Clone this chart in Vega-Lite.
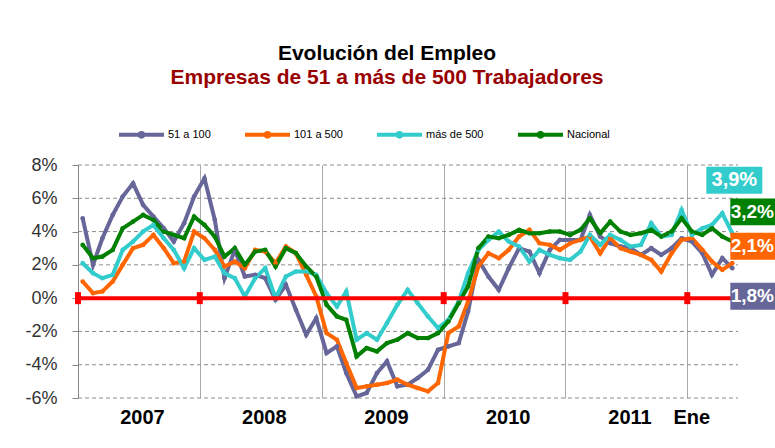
{
  "$schema": "https://vega.github.io/schema/vega-lite/v6.json",
  "width": 660,
  "height": 233,
  "autosize": {"type": "none"},
  "padding": {"left": 78, "top": 165, "right": 37, "bottom": 50},
  "background": "white",
  "title": {
    "text": "Evolución del Empleo",
    "subtitle": "Empresas de 51 a más de 500 Trabajadores",
    "anchor": "middle",
    "frame": "group",
    "dx": -21,
    "offset": 22,
    "font": "Liberation Sans",
    "fontSize": 21,
    "fontWeight": "bold",
    "color": "#000000",
    "subtitleFont": "Liberation Sans",
    "subtitleFontSize": 21,
    "subtitleFontWeight": "bold",
    "subtitleColor": "#990000",
    "subtitlePadding": 3
  },
  "config": {
    "view": {"stroke": null}
  },
  "encoding": {
    "x": {
      "field": "d",
      "type": "temporal",
      "title": null,
      "scale": {"domain": [{"year": 2007, "month": 1, "date": 1}, {"year": 2012, "month": 6, "date": 1}]},
      "axis": {
        "values": [
          {"year": 2007, "month": 1, "date": 1},
          {"year": 2008, "month": 1, "date": 1},
          {"year": 2009, "month": 1, "date": 1},
          {"year": 2010, "month": 1, "date": 1},
          {"year": 2011, "month": 1, "date": 1},
          {"year": 2012, "month": 1, "date": 1}
        ],
        "labelExpr": "year(datum.value) == 2012 ? 'Ene' : timeFormat(datum.value, '%Y')",
        "labelOffset": {"condition": {"test": "year(datum.value) == 2012", "value": 4}, "value": 64},
        "grid": true,
        "gridColor": "#aaaaaa",
        "gridWidth": 1,
        "domain": false,
        "ticks": false,
        "tickSize": 0,
        "labelFlush": false,
        "labelOverlap": false,
        "labelBound": false,
        "labelPadding": 9,
        "labelFont": "Liberation Sans",
        "labelFontSize": 20,
        "labelFontWeight": "bold",
        "labelColor": "#000000"
      }
    },
    "y": {
      "field": "valor",
      "type": "quantitative",
      "title": null,
      "scale": {"domain": [-6, 8], "nice": false},
      "axis": {
        "tickCount": 7,
        "labelExpr": "datum.value + '%'",
        "labelOverlap": false,
        "grid": false,
        "domainColor": "#888888",
        "tickColor": "#888888",
        "tickSize": 6,
        "labelPadding": 15,
        "labelFont": "Liberation Sans",
        "labelFontSize": 18,
        "labelColor": "#333333"
      }
    }
  },
  "layer": [
    {
      "data": {
        "format": {"parse": {"d": "date:'%Y-%m-%d'"}},
        "values": [
          {"d": "2007-01-01", "valor": -6}, {"d": "2012-06-01", "valor": -6},
          {"d": "2007-01-01", "valor": -4}, {"d": "2012-06-01", "valor": -4},
          {"d": "2007-01-01", "valor": -2}, {"d": "2012-06-01", "valor": -2},
          {"d": "2007-01-01", "valor": 2}, {"d": "2012-06-01", "valor": 2},
          {"d": "2007-01-01", "valor": 4}, {"d": "2012-06-01", "valor": 4},
          {"d": "2007-01-01", "valor": 6}, {"d": "2012-06-01", "valor": 6},
          {"d": "2007-01-01", "valor": 8}, {"d": "2012-06-01", "valor": 8}
        ]
      },
      "mark": {"type": "line", "color": "#8c8c8c", "strokeWidth": 1, "strokeDash": [4, 3]},
      "encoding": {"detail": {"field": "valor", "type": "nominal"}}
    },
    {
      "data": {
        "format": {"parse": {"d": "date:'%Y-%m-%d'"}},
        "values": [
          {"d": "2007-01-15", "51 a 100": 4.8, "101 a 500": 1.0, "más de 500": 2.1, "Nacional": 3.2},
          {"d": "2007-02-15", "51 a 100": 2.0, "101 a 500": 0.3, "más de 500": 1.5, "Nacional": 2.4},
          {"d": "2007-03-15", "51 a 100": 3.6, "101 a 500": 0.4, "más de 500": 1.2, "Nacional": 2.5},
          {"d": "2007-04-15", "51 a 100": 5.0, "101 a 500": 1.0, "más de 500": 1.4, "Nacional": 2.9},
          {"d": "2007-05-15", "51 a 100": 6.1, "101 a 500": 2.0, "más de 500": 2.9, "Nacional": 4.2},
          {"d": "2007-06-15", "51 a 100": 6.9, "101 a 500": 3.0, "más de 500": 3.4, "Nacional": 4.6},
          {"d": "2007-07-15", "51 a 100": 5.6, "101 a 500": 3.2, "más de 500": 4.0, "Nacional": 5.0},
          {"d": "2007-08-15", "51 a 100": 4.9, "101 a 500": 3.8, "más de 500": 4.4, "Nacional": 4.7},
          {"d": "2007-09-15", "51 a 100": 4.2, "101 a 500": 3.0, "más de 500": 3.6, "Nacional": 4.0},
          {"d": "2007-10-15", "51 a 100": 3.4, "101 a 500": 2.1, "más de 500": 2.9, "Nacional": 3.8},
          {"d": "2007-11-15", "51 a 100": 4.5, "101 a 500": 2.2, "más de 500": 1.8, "Nacional": 3.6},
          {"d": "2007-12-15", "51 a 100": 6.1, "101 a 500": 4.0, "más de 500": 3.0, "Nacional": 4.9},
          {"d": "2008-01-15", "51 a 100": 7.2, "101 a 500": 3.6, "más de 500": 2.3, "Nacional": 4.4},
          {"d": "2008-02-15", "51 a 100": 4.7, "101 a 500": 2.9, "más de 500": 2.5, "Nacional": 3.7},
          {"d": "2008-03-15", "51 a 100": 1.2, "101 a 500": 1.9, "más de 500": 1.5, "Nacional": 2.5},
          {"d": "2008-04-15", "51 a 100": 2.9, "101 a 500": 2.2, "más de 500": 1.2, "Nacional": 3.0},
          {"d": "2008-05-15", "51 a 100": 1.3, "101 a 500": 1.8, "más de 500": 0.1, "Nacional": 2.0},
          {"d": "2008-06-15", "51 a 100": 1.4, "101 a 500": 2.9, "más de 500": 1.2, "Nacional": 2.8},
          {"d": "2008-07-15", "51 a 100": 1.2, "101 a 500": 2.8, "más de 500": 1.8, "Nacional": 2.9},
          {"d": "2008-08-15", "51 a 100": -0.1, "101 a 500": 2.1, "más de 500": 0.0, "Nacional": 1.9},
          {"d": "2008-09-15", "51 a 100": 0.8, "101 a 500": 3.1, "más de 500": 1.3, "Nacional": 3.0},
          {"d": "2008-10-15", "51 a 100": -0.7, "101 a 500": 2.7, "más de 500": 1.6, "Nacional": 2.7},
          {"d": "2008-11-15", "51 a 100": -2.2, "101 a 500": 1.4, "más de 500": 1.6, "Nacional": 1.9},
          {"d": "2008-12-15", "51 a 100": -1.2, "101 a 500": 0.1, "más de 500": 1.4, "Nacional": 1.3},
          {"d": "2009-01-15", "51 a 100": -3.3, "101 a 500": -2.1, "más de 500": 0.3, "Nacional": -0.4},
          {"d": "2009-02-15", "51 a 100": -2.9, "101 a 500": -2.5, "más de 500": -0.5, "Nacional": -1.1},
          {"d": "2009-03-15", "51 a 100": -4.5, "101 a 500": -3.9, "más de 500": 0.4, "Nacional": -1.3},
          {"d": "2009-04-15", "51 a 100": -5.9, "101 a 500": -5.4, "más de 500": -2.5, "Nacional": -3.5},
          {"d": "2009-05-15", "51 a 100": -5.7, "101 a 500": -5.3, "más de 500": -2.1, "Nacional": -3.0},
          {"d": "2009-06-15", "51 a 100": -4.5, "101 a 500": -5.2, "más de 500": -2.5, "Nacional": -3.2},
          {"d": "2009-07-15", "51 a 100": -3.8, "101 a 500": -5.1, "más de 500": -1.5, "Nacional": -2.7},
          {"d": "2009-08-15", "51 a 100": -5.3, "101 a 500": -4.9, "más de 500": -0.4, "Nacional": -2.5},
          {"d": "2009-09-15", "51 a 100": -5.2, "101 a 500": -5.2, "más de 500": 0.5, "Nacional": -2.1},
          {"d": "2009-10-15", "51 a 100": -4.8, "101 a 500": -5.4, "más de 500": -0.3, "Nacional": -2.4},
          {"d": "2009-11-15", "51 a 100": -4.3, "101 a 500": -5.6, "más de 500": -1.1, "Nacional": -2.4},
          {"d": "2009-12-15", "51 a 100": -3.1, "101 a 500": -5.1, "más de 500": -1.8, "Nacional": -2.1},
          {"d": "2010-01-15", "51 a 100": -2.9, "101 a 500": -2.1, "más de 500": -1.3, "Nacional": -1.4},
          {"d": "2010-02-15", "51 a 100": -2.7, "101 a 500": -1.7, "más de 500": -0.2, "Nacional": -0.3},
          {"d": "2010-03-15", "51 a 100": -0.8, "101 a 500": -0.2, "más de 500": 1.5, "Nacional": 0.7},
          {"d": "2010-04-15", "51 a 100": 2.3, "101 a 500": 1.9, "más de 500": 2.9, "Nacional": 3.0},
          {"d": "2010-05-15", "51 a 100": 1.3, "101 a 500": 2.7, "más de 500": 3.5, "Nacional": 3.7},
          {"d": "2010-06-15", "51 a 100": 0.5, "101 a 500": 2.4, "más de 500": 4.0, "Nacional": 3.6},
          {"d": "2010-07-15", "51 a 100": 1.8, "101 a 500": 2.9, "más de 500": 3.4, "Nacional": 3.8},
          {"d": "2010-08-15", "51 a 100": 3.0, "101 a 500": 3.7, "más de 500": 3.1, "Nacional": 4.1},
          {"d": "2010-09-15", "51 a 100": 2.8, "101 a 500": 4.1, "más de 500": 2.2, "Nacional": 3.9},
          {"d": "2010-10-15", "51 a 100": 1.5, "101 a 500": 3.3, "más de 500": 2.9, "Nacional": 3.9},
          {"d": "2010-11-15", "51 a 100": 2.9, "101 a 500": 3.2, "más de 500": 2.6, "Nacional": 4.0},
          {"d": "2010-12-15", "51 a 100": 3.5, "101 a 500": 2.9, "más de 500": 2.4, "Nacional": 4.0},
          {"d": "2011-01-15", "51 a 100": 3.5, "101 a 500": 3.3, "más de 500": 2.3, "Nacional": 3.8},
          {"d": "2011-02-15", "51 a 100": 3.5, "101 a 500": 3.5, "más de 500": 2.8, "Nacional": 4.1},
          {"d": "2011-03-15", "51 a 100": 5.0, "101 a 500": 3.7, "más de 500": 3.8, "Nacional": 4.8},
          {"d": "2011-04-15", "51 a 100": 3.7, "101 a 500": 2.7, "más de 500": 3.2, "Nacional": 3.9},
          {"d": "2011-05-15", "51 a 100": 3.3, "101 a 500": 3.6, "más de 500": 3.8, "Nacional": 4.6},
          {"d": "2011-06-15", "51 a 100": 3.1, "101 a 500": 3.0, "más de 500": 3.5, "Nacional": 4.0},
          {"d": "2011-07-15", "51 a 100": 3.0, "101 a 500": 2.8, "más de 500": 3.1, "Nacional": 3.8},
          {"d": "2011-08-15", "51 a 100": 2.6, "101 a 500": 2.6, "más de 500": 3.2, "Nacional": 3.9},
          {"d": "2011-09-15", "51 a 100": 3.0, "101 a 500": 2.3, "más de 500": 4.5, "Nacional": 4.1},
          {"d": "2011-10-15", "51 a 100": 2.6, "101 a 500": 1.6, "más de 500": 3.7, "Nacional": 3.7},
          {"d": "2011-11-15", "51 a 100": 3.0, "101 a 500": 2.7, "más de 500": 3.8, "Nacional": 4.0},
          {"d": "2011-12-15", "51 a 100": 3.6, "101 a 500": 3.5, "más de 500": 5.3, "Nacional": 4.8},
          {"d": "2012-01-15", "51 a 100": 3.4, "101 a 500": 3.6, "más de 500": 3.8, "Nacional": 4.0},
          {"d": "2012-02-15", "51 a 100": 2.7, "101 a 500": 2.9, "más de 500": 4.2, "Nacional": 3.8},
          {"d": "2012-03-15", "51 a 100": 1.4, "101 a 500": 2.2, "más de 500": 4.4, "Nacional": 4.2},
          {"d": "2012-04-15", "51 a 100": 2.4, "101 a 500": 1.7, "más de 500": 5.1, "Nacional": 3.7},
          {"d": "2012-05-15", "51 a 100": 1.8, "101 a 500": 2.1, "más de 500": 3.9, "Nacional": 3.4}
        ]
      },
      "transform": [
        {"fold": ["51 a 100", "101 a 500", "más de 500", "Nacional"], "as": ["serie", "valor"]}
      ],
      "mark": {"type": "line", "strokeWidth": 4, "point": {"filled": true, "size": 22}},
      "encoding": {
        "color": {
          "field": "serie",
          "type": "nominal",
          "scale": {
            "domain": ["51 a 100", "101 a 500", "más de 500", "Nacional"],
            "range": ["#666699", "#ff6600", "#33cccc", "#008000"]
          },
          "legend": {
            "orient": "none",
            "legendX": 39,
            "legendY": -55,
            "direction": "horizontal",
            "title": null,
            "symbolType": "M-1,0H1M-0.08,0A0.08,0.08,0,1,1,0.08,0A0.08,0.08,0,1,1,-0.08,0",
            "symbolSize": 2025,
            "symbolStrokeWidth": 4,
            "labelFont": "Liberation Sans",
            "labelFontSize": 11,
            "labelColor": "#000000",
            "labelOffset": 2,
            "columnPadding": 26
          }
        }
      }
    },
    {
      "data": {
        "format": {"parse": {"d": "date:'%Y-%m-%d'"}},
        "values": [{"d": "2007-01-01", "valor": 0}, {"d": "2012-06-01", "valor": 0}]
      },
      "mark": {"type": "line", "color": "#ff0000", "strokeWidth": 4}
    },
    {
      "data": {
        "format": {"parse": {"d": "date:'%Y-%m-%d'"}},
        "values": [{"d": "2007-01-01", "valor": 0}, {"d": "2008-01-01", "valor": 0}, {"d": "2010-01-01", "valor": 0}, {"d": "2011-01-01", "valor": 0}, {"d": "2012-01-01", "valor": 0}]
      },
      "mark": {"type": "point", "shape": "M-0.5,-1H0.5V1H-0.5Z", "size": 144, "filled": true, "color": "#ff0000", "opacity": 1}
    },
    {
      "data": {
        "format": {"parse": {"d": "date:'%Y-%m-%d'"}},
        "values": [
          {"d": "2012-05-15", "serie": "51 a 100", "valor": 1.8, "t": "1,8%"},
          {"d": "2012-05-15", "serie": "101 a 500", "valor": 2.1, "t": "2,1%"},
          {"d": "2012-05-15", "serie": "más de 500", "valor": 3.9, "t": "3,9%"},
          {"d": "2012-05-15", "serie": "Nacional", "valor": 3.2, "t": "3,2%"}
        ]
      },
      "layer": [
        {
          "transform": [{"filter": "datum.serie == 'más de 500'"}],
          "layer": [
            {"mark": {"type": "point", "shape": "M-1,-0.48H1V0.48H-1Z", "size": 3136, "filled": true, "color": "#33cccc", "opacity": 1, "xOffset": 2, "yOffset": -53}},
            {"mark": {"type": "text", "color": "#ffffff", "font": "Liberation Sans", "fontSize": 20, "fontWeight": "bold", "align": "center", "baseline": "middle", "xOffset": 2, "yOffset": -53},
             "encoding": {"text": {"field": "t"}}}
          ]
        },
        {
          "transform": [{"filter": "datum.serie == 'Nacional'"}],
          "layer": [
            {"mark": {"type": "point", "shape": "M-1,-0.48H1V0.48H-1Z", "size": 3136, "filled": true, "color": "#008000", "opacity": 1, "xOffset": 26, "yOffset": -33}},
            {"mark": {"type": "text", "color": "#ffffff", "font": "Liberation Sans", "fontSize": 19, "fontWeight": "bold", "align": "center", "baseline": "middle", "xOffset": 20, "yOffset": -33},
             "encoding": {"text": {"field": "t"}}}
          ]
        },
        {
          "transform": [{"filter": "datum.serie == '101 a 500'"}],
          "layer": [
            {"mark": {"type": "point", "shape": "M-1,-0.48H1V0.48H-1Z", "size": 3136, "filled": true, "color": "#ff6600", "opacity": 1, "xOffset": 26, "yOffset": -17}},
            {"mark": {"type": "text", "color": "#ffffff", "font": "Liberation Sans", "fontSize": 19, "fontWeight": "bold", "align": "center", "baseline": "middle", "xOffset": 20, "yOffset": -17},
             "encoding": {"text": {"field": "t"}}}
          ]
        },
        {
          "transform": [{"filter": "datum.serie == '51 a 100'"}],
          "layer": [
            {"mark": {"type": "point", "shape": "M-1,-0.48H1V0.48H-1Z", "size": 3136, "filled": true, "color": "#666699", "opacity": 1, "xOffset": 26, "yOffset": 28}},
            {"mark": {"type": "text", "color": "#ffffff", "font": "Liberation Sans", "fontSize": 19, "fontWeight": "bold", "align": "center", "baseline": "middle", "xOffset": 20, "yOffset": 28},
             "encoding": {"text": {"field": "t"}}}
          ]
        }
      ]
    }
  ]
}
